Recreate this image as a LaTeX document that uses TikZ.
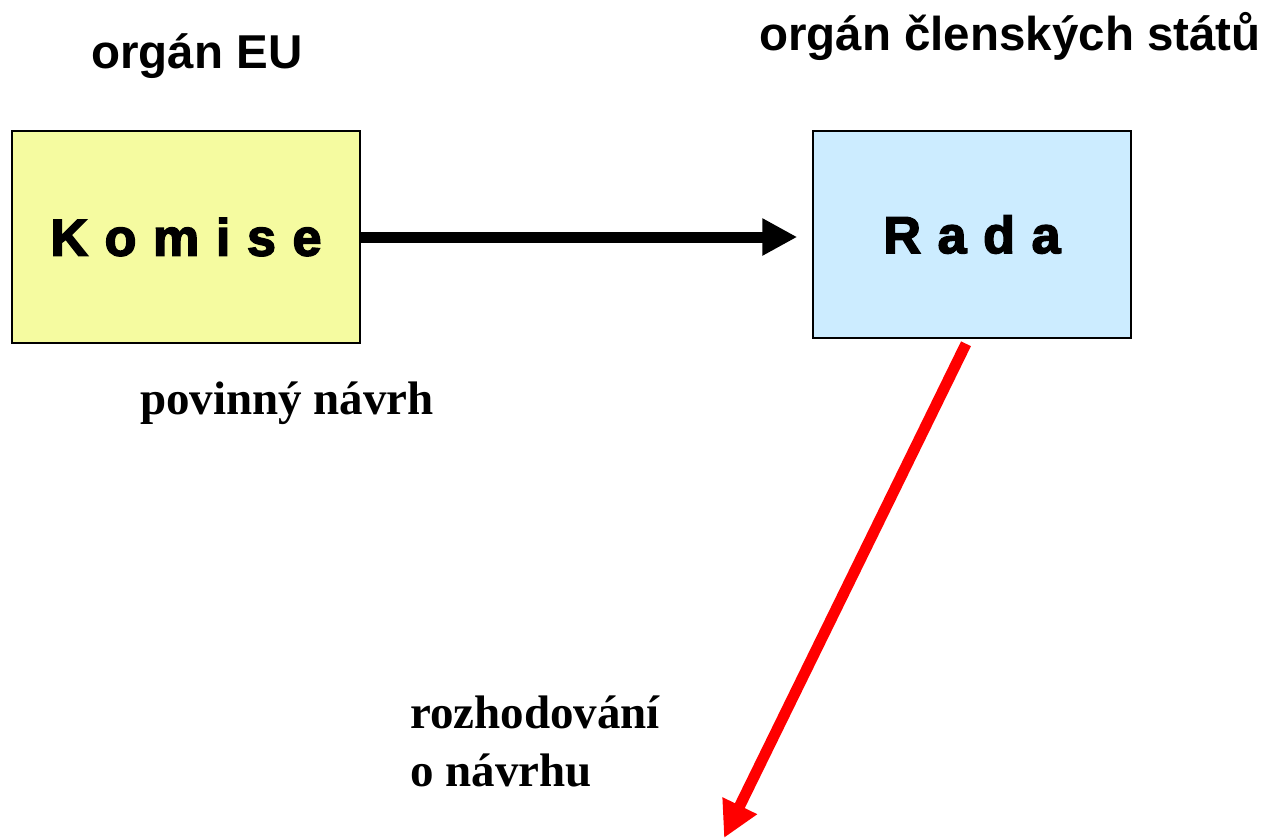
\documentclass[tikz,border=0pt]{standalone}
\usepackage{fontspec}
\setmainfont{Liberation Serif}
\newfontfamily\arialfont{Liberation Sans}
\newfontfamily\blackfont{Liberation Sans}[BoldFont={Liberation Sans Bold}, BoldFeatures={FakeBold=3}]
\usepackage{xcolor}
\usetikzlibrary{calc, positioning, arrows.meta}

\definecolor{komisefill}{RGB}{245,251,160}
\definecolor{radafill}{RGB}{204,236,255}
\newcommand\widespaces{\spaceskip 0.32em\relax}

\begin{document}
\begin{tikzpicture}[x=1pt, y=-1pt,
	organbox/.style={draw=black, line width=1.5pt, inner sep=0pt, anchor=center,
		font=\blackfont\bfseries\fontsize{52}{60}\selectfont\widespaces},
	heading/.style={anchor=base, font=\arialfont\bfseries\fontsize{47.5}{56}\selectfont},
	note/.style={font=\bfseries\fontsize{47}{58}\selectfont}]
	\useasboundingbox (0,0) rectangle (1268,839);
	
	\node [heading] (eu) at (197,68) {orgán EU};
	\node [heading] (staty) at (1010,50) {orgán členských států};
	
	\node [organbox, fill=komisefill, minimum width=348pt, minimum height=212pt] (komise) at (186,237) {K o m i s e};
	\node [organbox, fill=radafill, minimum width=318pt, minimum height=207pt] (rada) at (972,234.5) {R a d a};
	
	\node [note, anchor=base] (navrh) at (287,414) {povinný návrh};
	\node [note, anchor=north west, align=left, inner sep=0pt] (rozhodovani) at (410,696) {rozhodování\\ o návrhu};
	
	\coordinate (konec) at (724,838);
	
	\draw [line width=11pt, -{Triangle[length=35pt, width=35pt]}, shorten >=15pt] (komise.east) -- (komise.east -| rada.west);
	\draw [red, line width=11pt, -{Triangle[length=36pt, width=36pt]}] ($(rada.south)+(-6,5)$) -- (konec);
	
\end{tikzpicture}
\end{document}
